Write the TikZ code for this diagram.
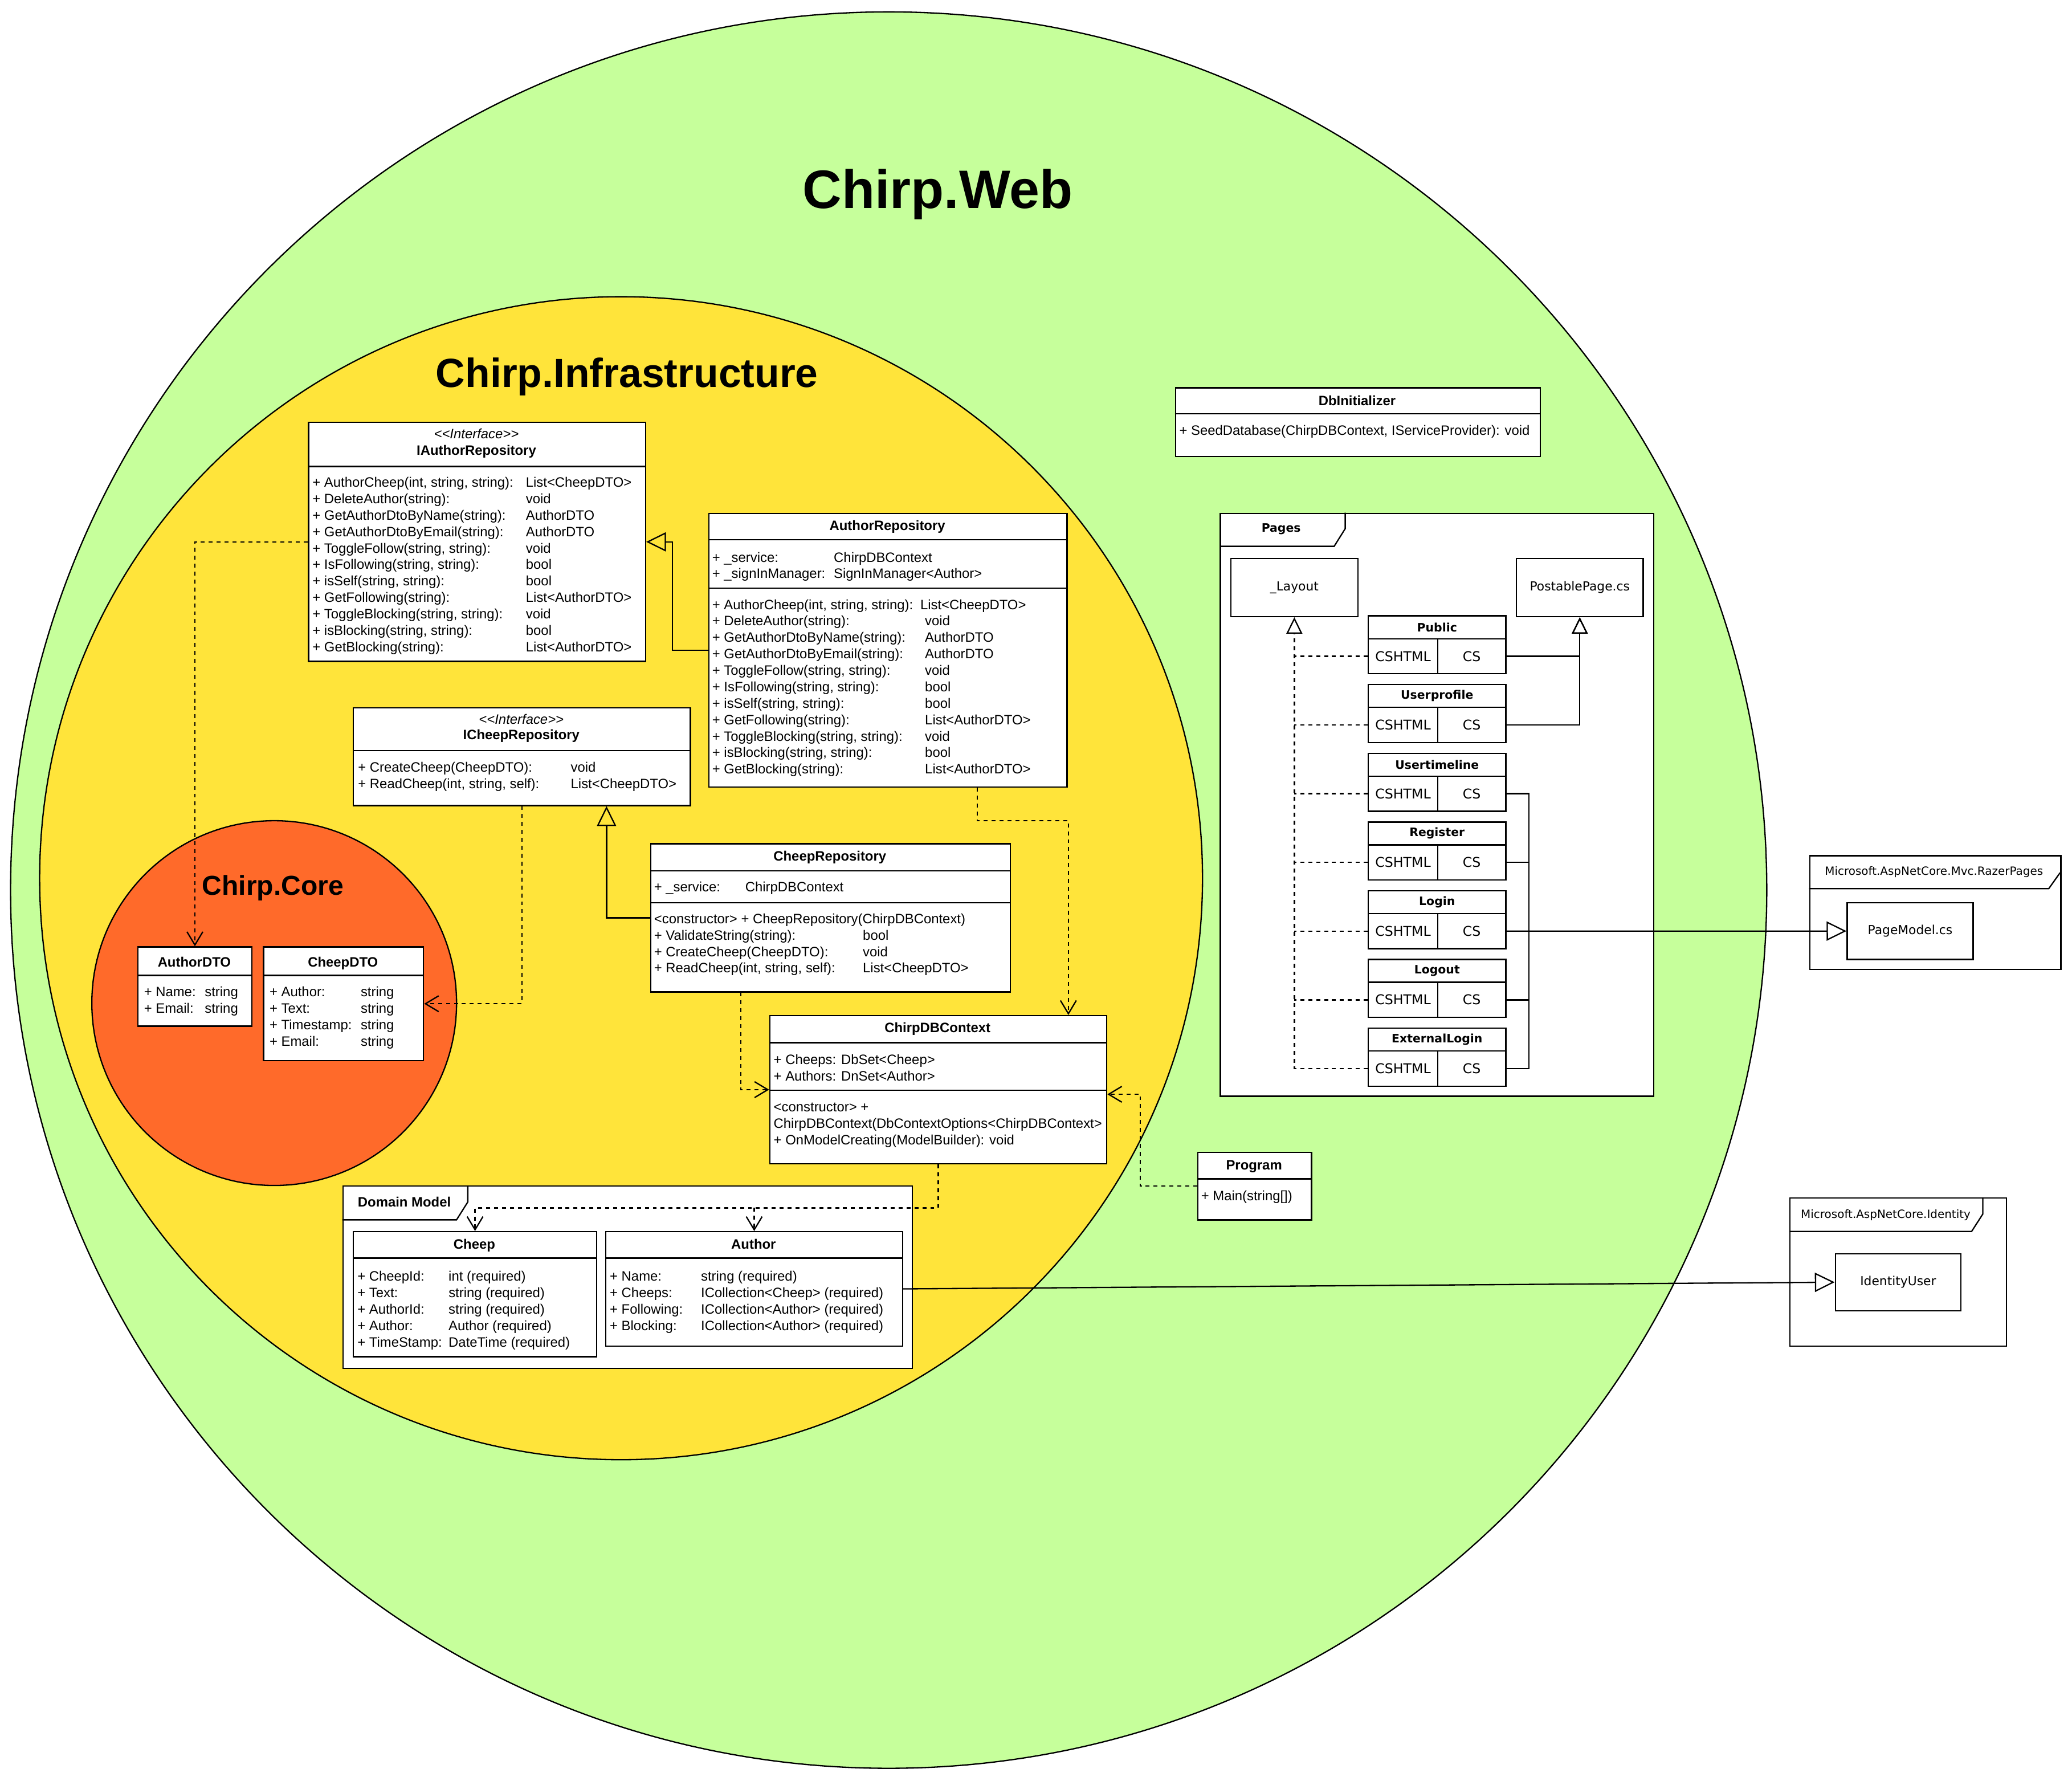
\documentclass[tikz,border=0pt]{standalone}
\usepackage{fontspec}
\setmainfont{Liberation Sans}
\newfontfamily\dejavu{DejaVu Sans}
\usetikzlibrary{arrows.meta,positioning}

\definecolor{webgreen}{RGB}{198,255,155}
\definecolor{infrayellow}{RGB}{255,228,58}
\definecolor{coreorange}{RGB}{255,106,42}

\newlength\mcol
\newcommand{\mrow}[2]{\makebox[\mcol][l]{#1}#2\\}
\newcommand{\members}[2]{\setlength\mcol{#1}\begin{tabular}{@{}l@{}}#2\end{tabular}}

\tikzset{
  classbox/.style={draw, fill=white, inner sep=0pt, anchor=north west},
  classname/.style={inner sep=0pt, font=\bfseries\fontsize{10.3}{12.45}\selectfont, text height=7.4pt, text depth=0pt},
  stereo/.style={inner sep=0pt, font=\itshape\fontsize{10.3}{12.45}\selectfont, text height=7.4pt, text depth=0pt},
  memberlist/.style={inner sep=0pt, anchor=north west, font=\fontsize{10.3}{12.45}\selectfont},
  pkgframe/.style={draw, fill=white, inner sep=0pt, anchor=north west},
  pkglabel/.style={inner sep=0pt, font=\dejavu\fontsize{8.6}{10}\selectfont},
  filebox/.style={draw, fill=white, inner sep=0pt, anchor=north west, font=\dejavu\fontsize{9.4}{11}\selectfont},
  pagehead/.style={draw, fill=white, inner sep=0pt, anchor=north west, minimum width=104pt, minimum height=17.3pt, font=\dejavu\bfseries\fontsize{8.8}{10}\selectfont},
  pagecell/.style={draw, fill=white, inner sep=0pt, anchor=north west, minimum height=26.5pt, font=\dejavu\fontsize{10.2}{12}\selectfont},
  depend/.style={dashed, -{Straight Barb[length=10pt,width=12pt]}},
  generalize/.style={-{Triangle[open,length=15pt,width=14.5pt]}},
  generalize small/.style={-{Triangle[open,length=12.5pt,width=12pt]}},
  realize/.style={dashed, -{Triangle[open,length=12.5pt,width=12pt]}},
}

\begin{document}
\begin{tikzpicture}[x=1pt, y=-1pt, line width=1pt]
  \useasboundingbox (0,0) rectangle (1568,1347.2);

  \node[circle, draw, fill=webgreen, minimum size=1329pt, inner sep=0pt] (web) at (672.5,673.5) {};
  \node[circle, draw, fill=infrayellow, minimum size=880pt, inner sep=0pt] (infra) at (470,664.5) {};
  \node[circle, draw, fill=coreorange, minimum size=276pt, inner sep=0pt] (core) at (207.5,759) {};

  \node[font=\bfseries\fontsize{41}{49}\selectfont] (webT) at (709.5,147) {Chirp.Web};
  \node[font=\bfseries\fontsize{30.8}{37}\selectfont] (infraT) at (474.5,285) {Chirp.Infrastructure};
  \node[font=\bfseries\fontsize{20.7}{25}\selectfont] (coreT) at (206.5,672) {Chirp.Core};

  \node[classbox, minimum width=276pt, minimum height=52pt] (dbinit) at (889,293) {};
  \draw (889,313) -- (1165,313);
  \node[classname] (dbinitT) at (1027,303) {DbInitializer};
  \node[memberlist] (dbinitM) at (892,320) {\members{0pt}{\mrow{}{+ SeedDatabase(ChirpDBContext, IServiceProvider): void}}};

  \node[classbox, minimum width=255pt, minimum height=181pt] (iauth) at (233,319) {};
  \draw (233,353) -- (488,353);
  \node[stereo] (iauthS) at (360.5,328) {<{}<Interface>{}>};
  \node[classname] (iauthT) at (360.5,340.5) {IAuthorRepository};
  \node[memberlist] (iauthM) at (236,359.3) {\members{161.5pt}{%
    \mrow{+ AuthorCheep(int, string, string):}{List<CheepDTO>}
    \mrow{+ DeleteAuthor(string):}{void}
    \mrow{+ GetAuthorDtoByName(string):}{AuthorDTO}
    \mrow{+ GetAuthorDtoByEmail(string):}{AuthorDTO}
    \mrow{+ ToggleFollow(string, string):}{void}
    \mrow{+ IsFollowing(string, string):}{bool}
    \mrow{+ isSelf(string, string):}{bool}
    \mrow{+ GetFollowing(string):}{List<AuthorDTO>}
    \mrow{+ ToggleBlocking(string, string):}{void}
    \mrow{+ isBlocking(string, string):}{bool}
    \mrow{+ GetBlocking(string):}{List<AuthorDTO>}}};

  \node[classbox, minimum width=271pt, minimum height=207pt] (authrepo) at (536,388) {};
  \draw (536,408.5) -- (807,408.5);
  \draw (536,445) -- (807,445);
  \node[classname] (authrepoT) at (671.5,397.5) {AuthorRepository};
  \node[memberlist] (authrepoA) at (538.5,416) {\members{92pt}{%
    \mrow{+ \_service:}{ChirpDBContext}
    \mrow{+ \_signInManager:}{SignInManager<Author>}}};
  \node[memberlist] (authrepoM) at (538.5,451.8) {\members{161pt}{%
    \mrow{+ AuthorCheep(int, string, string):}{\hspace{-3.5pt}List<CheepDTO>}
    \mrow{+ DeleteAuthor(string):}{void}
    \mrow{+ GetAuthorDtoByName(string):}{AuthorDTO}
    \mrow{+ GetAuthorDtoByEmail(string):}{AuthorDTO}
    \mrow{+ ToggleFollow(string, string):}{void}
    \mrow{+ IsFollowing(string, string):}{bool}
    \mrow{+ isSelf(string, string):}{bool}
    \mrow{+ GetFollowing(string):}{List<AuthorDTO>}
    \mrow{+ ToggleBlocking(string, string):}{void}
    \mrow{+ isBlocking(string, string):}{bool}
    \mrow{+ GetBlocking(string):}{List<AuthorDTO>}}};

  \node[classbox, minimum width=255pt, minimum height=74pt] (icheep) at (267,535) {};
  \draw (267,568) -- (522,568);
  \node[stereo] (icheepS) at (394.5,544) {<{}<Interface>{}>};
  \node[classname] (icheepT) at (394.5,556) {ICheepRepository};
  \node[memberlist] (icheepM) at (270.5,575) {\members{161pt}{%
    \mrow{+ CreateCheep(CheepDTO):}{void}
    \mrow{+ ReadCheep(int, string, self):}{List<CheepDTO>}}};

  \node[classbox, minimum width=272pt, minimum height=112pt] (cheeprepo) at (492,638) {};
  \draw (492,659) -- (764,659);
  \draw (492,683) -- (764,683);
  \node[classname] (cheeprepoT) at (628,647.5) {CheepRepository};
  \node[memberlist] (cheeprepoA) at (494.5,665.5) {\members{69pt}{\mrow{+ \_service:}{ChirpDBContext}}};
  \node[memberlist] (cheeprepoM) at (494.5,689.5) {\members{158pt}{%
    <constructor> + CheepRepository(ChirpDBContext)\\
    \mrow{+ ValidateString(string):}{bool}
    \mrow{+ CreateCheep(CheepDTO):}{void}
    \mrow{+ ReadCheep(int, string, self):}{List<CheepDTO>}}};

  \node[classbox, minimum width=86pt, minimum height=60pt] (authdto) at (104,716) {};
  \draw (104,738) -- (190,738);
  \node[classname] (authdtoT) at (147,728) {AuthorDTO};
  \node[memberlist] (authdtoM) at (108.5,745) {\members{46pt}{%
    \mrow{+ Name:}{string}
    \mrow{+ Email:}{string}}};

  \node[classbox, minimum width=121pt, minimum height=86pt] (cheepdto) at (199,716) {};
  \draw (199,738) -- (320,738);
  \node[classname] (cheepdtoT) at (259.5,728) {CheepDTO};
  \node[memberlist] (cheepdtoM) at (203.5,745) {\members{69pt}{%
    \mrow{+ Author:}{string}
    \mrow{+ Text:}{string}
    \mrow{+ Timestamp:}{string}
    \mrow{+ Email:}{string}}};

  \node[classbox, minimum width=255pt, minimum height=112pt] (dbctx) at (582,768) {};
  \draw (582,789) -- (837,789);
  \draw (582,825) -- (837,825);
  \node[classname] (dbctxT) at (709.5,777.5) {ChirpDBContext};
  \node[memberlist] (dbctxA) at (585,796) {\members{0pt}{%
    \mrow{}{+ Cheeps: DbSet<Cheep>}
    \mrow{}{+ Authors: DnSet<Author>}}};
  \node[memberlist] (dbctxM) at (585,832) {\members{0pt}{%
    \mrow{}{<constructor> +}
    \mrow{}{ChirpDBContext(DbContextOptions<ChirpDBContext>}
    \mrow{}{+ OnModelCreating(ModelBuilder): void}}};

  \node[classbox, minimum width=86pt, minimum height=51pt] (program) at (906,871.5) {};
  \draw (906,892) -- (992,892);
  \node[classname] (programT) at (949,881.5) {Program};
  \node[memberlist] (programM) at (908.5,899) {\members{0pt}{\mrow{}{+ Main(string[])}}};

  \node[pkgframe, minimum width=431pt, minimum height=138pt] (domain) at (259,897) {};
  \draw (354,897) -- (354,909.5) -- (345.5,923) -- (259,923);
  \node[classname] (domainL) at (306,909.5) {Domain Model};

  \node[classbox, minimum width=184pt, minimum height=94.5pt] (cheep) at (267,931.5) {};
  \draw (267,952) -- (451,952);
  \node[classname] (cheepT) at (359,941.5) {Cheep};
  \node[memberlist] (cheepM) at (270,960) {\members{69pt}{%
    \mrow{+ CheepId:}{int (required)}
    \mrow{+ Text:}{string (required)}
    \mrow{+ AuthorId:}{string (required)}
    \mrow{+ Author:}{Author (required)}
    \mrow{+ TimeStamp:}{DateTime (required)}}};

  \node[classbox, minimum width=224.5pt, minimum height=86.5pt] (author) at (458,931.5) {};
  \draw (458,952) -- (682.5,952);
  \node[classname] (authorT) at (570.25,941.5) {Author};
  \node[memberlist] (authorM) at (461,960) {\members{69pt}{%
    \mrow{+ Name:}{string (required)}
    \mrow{+ Cheeps:}{ICollection<Cheep> (required)}
    \mrow{+ Following:}{ICollection<Author> (required)}
    \mrow{+ Blocking:}{ICollection<Author> (required)}}};

  \node[pkgframe, minimum width=328pt, minimum height=441pt] (pages) at (923,388) {};
  \draw (1018,388) -- (1018,400) -- (1009.6,413.4) -- (923,413.4);
  \node[pkglabel, font=\dejavu\bfseries\fontsize{8.8}{10}\selectfont] (pagesL) at (969.5,400.5) {Pages};
  \node[filebox, minimum width=96pt, minimum height=44pt] (layout) at (931,422) {\_Layout};
  \node[filebox, minimum width=96pt, minimum height=44pt] (postable) at (1147,422) {PostablePage.cs};
  \foreach \nm/\lbl [count=\i from 0] in {pub/Public,uprof/Userprofile,utl/Usertimeline,reg/Register,login/Login,logout/Logout,extl/ExternalLogin}{
    \node[pagehead] (\nm) at (1035,465.5+52*\i) {\lbl};
    \node[pagecell, minimum width=52.5pt] (\nm-html) at (1035,482.8+52*\i) {CSHTML};
    \node[pagecell, minimum width=51.5pt] (\nm-cs) at (1087.5,482.8+52*\i) {CS};
  }

  \node[pkgframe, minimum width=190pt, minimum height=86pt] (razor) at (1369,647) {};
  \draw (1559,660.3) -- (1550.4,672.4) -- (1369,672.4);
  \node[pkglabel] (razorL) at (1463.5,660) {Microsoft.AspNetCore.Mvc.RazerPages};
  \node[filebox, minimum width=95.3pt, minimum height=43pt] (pagemodel) at (1397.3,682.5) {PageModel.cs};

  \node[pkgframe, minimum width=164pt, minimum height=112pt] (ident) at (1354,906) {};
  \draw (1500.5,906) -- (1500.5,918.6) -- (1492,931.8) -- (1354,931.8);
  \node[pkglabel] (identL) at (1427,919.3) {Microsoft.AspNetCore.Identity};
  \node[filebox, minimum width=95pt, minimum height=43pt] (identuser) at (1388.4,948.2) {IdentityUser};

  \draw[depend] (iauth.west) -| (authdto.north);
  \draw[depend] (icheep.south) |- (cheepdto.east);
  \draw[depend] ([xshift=67.5pt]authrepo.south) -- ++(0,25) -| ([xshift=98.5pt]dbctx.north);
  \draw[depend] ([xshift=-68pt]cheeprepo.south) |- (dbctx.west);
  \draw[depend] (program.west) -- ++(-43,0) |- ([yshift=-3.5pt]dbctx.east);
  \draw[depend] (dbctx.south) |- ([yshift=17.5pt]cheep.north) -- (cheep.north);
  \draw[depend] ([yshift=17.5pt]author.north) -- (author.north);

  \draw[generalize] (authrepo.west) -- ++(-27,0) |- (iauth.east);
  \draw[generalize] (cheeprepo.west) -| ([xshift=64pt]icheep.south);
  \draw[generalize] (author.east) -- (identuser.west);

  \foreach \nm in {pub,uprof,utl,reg,login,logout}
    \draw[dashed] (\nm-html.west) -- (\nm-html.west -| layout.south);
  \draw[realize] (extl-html.west) -| (layout.south);
  \draw[generalize small] (pub-cs.east) -| (postable.south);
  \draw[generalize small] (uprof-cs.east) -| (postable.south);
  \foreach \nm in {utl,reg,logout,extl}
    \draw (\nm-cs.east) -| ([xshift=17pt]login-cs.east);
  \draw[generalize] (login-cs.east) -- (pagemodel.west);
\end{tikzpicture}
\end{document}
